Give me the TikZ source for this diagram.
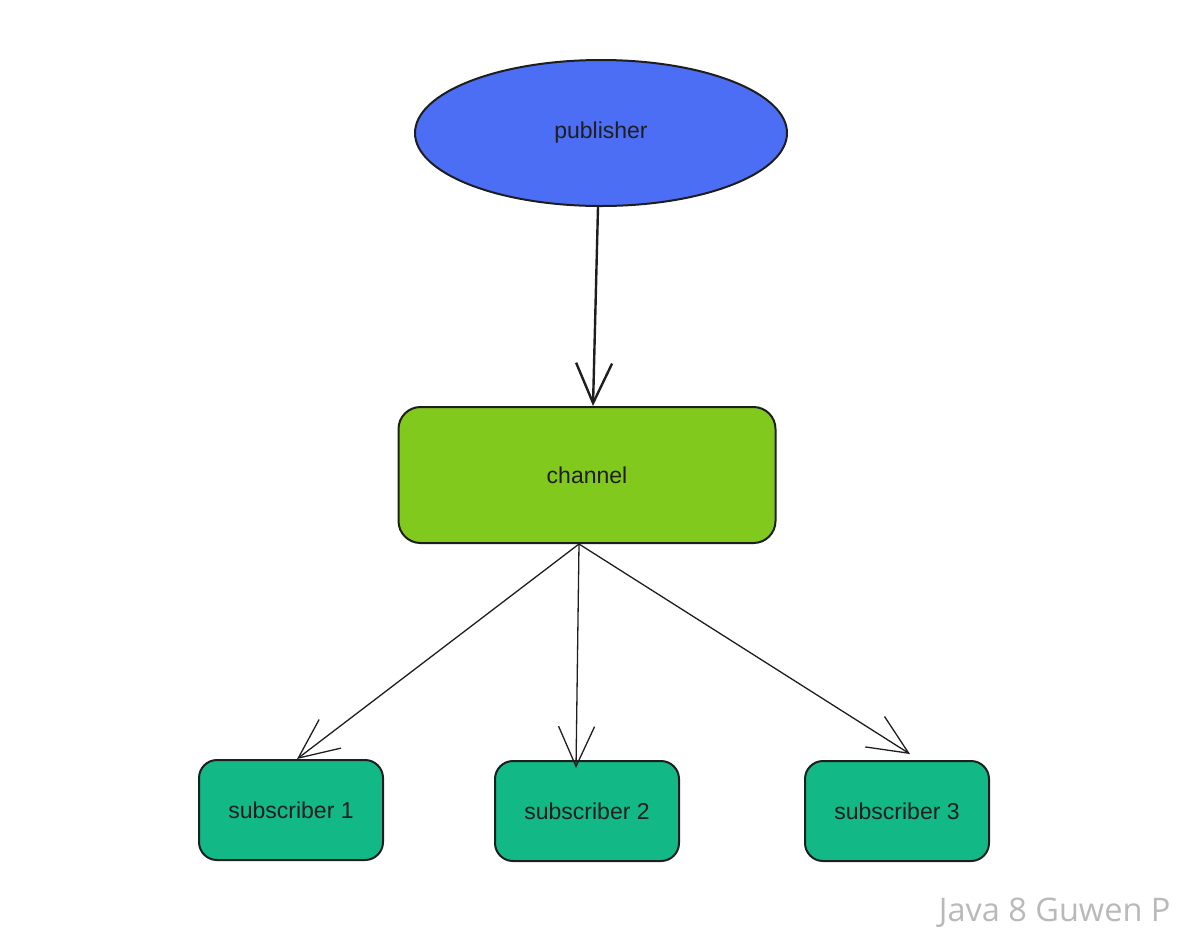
\documentclass[tikz,border=0pt]{standalone}
\usepackage{fontspec}
\setmainfont{Liberation Sans}
\newfontfamily\markfont{Open Sans}
\usetikzlibrary{arrows.meta,shapes.geometric}
\definecolor{pubblue}{HTML}{4C6EF5}
\definecolor{changreen}{HTML}{82C91E}
\definecolor{subgreen}{HTML}{12B886}
\definecolor{ink}{HTML}{1E1E1E}

\begin{document}
\begin{tikzpicture}[x=1pt,y=-1pt,
    every node/.style={text=ink,font=\fontsize{23}{28}\selectfont},
    outline/.style={draw=ink,line width=2pt},
    box/.style={outline,rectangle,rounded corners=22pt},
    sub/.style={box,fill=subgreen,rounded corners=18pt,
      minimum width=184pt,minimum height=100pt},
    link/.style={draw=ink,-{Straight Barb[length=40pt,width=36pt]}}]
    \useasboundingbox (0,0) rectangle (1182,938);

    \node[outline,ellipse,fill=pubblue,minimum width=372pt,minimum height=146pt]
    (P) at (601,133) {publisher};
    \node[box,fill=changreen,minimum width=377pt,minimum height=136pt]
    (C) at (587,475) {channel};

    \node[sub] (S1) at (291,810) {subscriber 1};
    \node[sub] (S2) at (587,811) {subscriber 2};
    \node[sub] (S3) at (897,811) {subscriber 3};

    \draw[link,line width=2.4pt] ([xshift=-3pt]P.south) -- ([xshift=6pt]C.north);
    \path[line width=1.3pt]
    ([xshift=-8pt]C.south) edge[link] ([xshift=6pt]S1.north)
    edge[link] ([xshift=-11pt,yshift=-8pt]S2.north)
    edge[link] ([xshift=13pt,yshift=6pt]S3.north);

    % watermark
    \node[font=\markfont\fontsize{32.5}{38}\selectfont,text=gray!55,anchor=east]
    (W) at (1174,913) {Java 8 Guwen P};
  \end{tikzpicture}
\end{document}
